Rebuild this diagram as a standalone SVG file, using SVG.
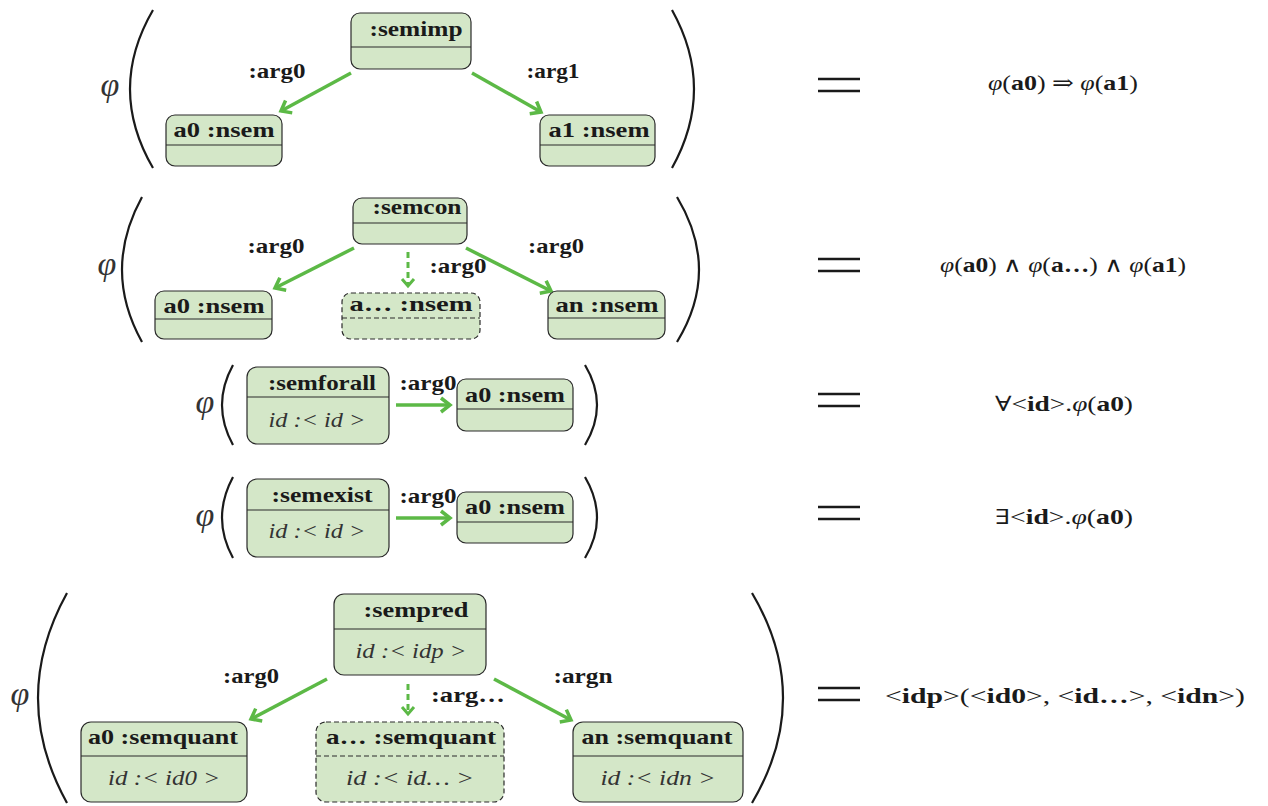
<svg xmlns="http://www.w3.org/2000/svg" width="1268" height="806" viewBox="0 0 1268 806">
<defs>
<style>
.n{fill:#d4e7c8;stroke:#2a2a2a;stroke-width:1.2}
.nd{fill:#d4e7c8;stroke:#2a2a2a;stroke-width:1.2;stroke-dasharray:5 3}
.dv{stroke:#2a2a2a;stroke-width:1.2}
.dvd{stroke:#2a2a2a;stroke-width:1.2;stroke-dasharray:5 3}
.t{font-family:"Liberation Serif","Times New Roman",serif;font-weight:bold;font-size:21px;fill:#1a1a1a;text-anchor:middle}
.i{font-family:"Liberation Serif","Times New Roman",serif;font-style:italic;font-size:20px;fill:#333;text-anchor:middle}
.lb{font-family:"Liberation Serif","Times New Roman",serif;font-weight:bold;font-size:20px;fill:#1a1a1a;text-anchor:middle}
.e{stroke:#5cb946;stroke-width:3.5;fill:none}
.ed{stroke:#5cb946;stroke-width:3;fill:none;stroke-dasharray:6 4}
.p{stroke:#1a1a1a;stroke-width:2.2;fill:none}
.phi{font-family:"Liberation Serif","DejaVu Serif",serif;font-style:italic;font-size:34px;fill:#333;text-anchor:middle}
.eq{stroke:#1a1a1a;stroke-width:2.5}
.f{font-family:"Liberation Serif","DejaVu Serif",serif;font-size:21px;fill:#1a1a1a;text-anchor:middle}
.f .b{font-weight:bold}
.f .it{font-style:italic}
</style>
<marker id="ah" markerUnits="userSpaceOnUse" markerWidth="20" markerHeight="20" viewBox="-14 -10 20 20" refX="0" refY="0" orient="auto">
<path d="M-9,-7 L0,0 L-9,7" fill="none" stroke="#5cb946" stroke-width="3.5" stroke-linejoin="miter"/>
</marker>
<marker id="ahd" markerUnits="userSpaceOnUse" markerWidth="20" markerHeight="20" viewBox="-14 -10 20 20" refX="0" refY="0" orient="auto">
<path d="M-7,-6 L0,0 L-7,6" fill="none" stroke="#5cb946" stroke-width="3"/>
</marker>
</defs>
<rect width="1268" height="806" fill="#ffffff"/>

<g id="brackets">
<path class="p" d="M153,10 Q107,89 153,168"/><path class="p" d="M672,10 Q716,89 672,168"/>
<path class="p" d="M142,197 Q102,270 142,342"/><path class="p" d="M677,197 Q721,270 677,342"/>
<path class="p" d="M233,365 Q211,405 233,445"/><path class="p" d="M585,365 Q609,405 585,445"/>
<path class="p" d="M233,477 Q211,518 233,558"/><path class="p" d="M585,477 Q609,518 585,558"/>
<path class="p" d="M67,593 Q9,698 67,803"/><path class="p" d="M752,593 Q814,698 752,803"/>
<text class="phi" x="110" y="96">φ</text>
<text class="phi" x="107" y="275">φ</text>
<text class="phi" x="205" y="413">φ</text>
<text class="phi" x="205" y="526">φ</text>
<text class="phi" x="20" y="705">φ</text>
</g>

<g id="connectors">
<line class="e" x1="351" y1="73" x2="281" y2="111" marker-end="url(#ah)"/>
<line class="e" x1="472" y1="73" x2="541" y2="112" marker-end="url(#ah)"/>
<line class="e" x1="354" y1="248" x2="275" y2="288" marker-end="url(#ah)"/>
<line class="ed" x1="408" y1="252" x2="408" y2="286" marker-end="url(#ahd)"/>
<line class="e" x1="466" y1="248" x2="551" y2="291" marker-end="url(#ah)"/>
<line class="e" x1="396" y1="405" x2="450" y2="405" marker-end="url(#ah)"/>
<line class="e" x1="396" y1="518" x2="450" y2="518" marker-end="url(#ah)"/>
<line class="e" x1="327" y1="679" x2="251" y2="719" marker-end="url(#ah)"/>
<line class="ed" x1="408" y1="684" x2="408" y2="714" marker-end="url(#ahd)"/>
<line class="e" x1="494" y1="679" x2="571" y2="720" marker-end="url(#ah)"/>
<text class="lb" x="277" y="78" textLength="57" lengthAdjust="spacingAndGlyphs">:arg0</text>
<text class="lb" x="553" y="78" textLength="53" lengthAdjust="spacingAndGlyphs">:arg1</text>
<text class="lb" x="276" y="253" textLength="57" lengthAdjust="spacingAndGlyphs">:arg0</text>
<text class="lb" x="458" y="273" textLength="57" lengthAdjust="spacingAndGlyphs">:arg0</text>
<text class="lb" x="556" y="253" textLength="56" lengthAdjust="spacingAndGlyphs">:arg0</text>
<text class="lb" x="428" y="390" textLength="57" lengthAdjust="spacingAndGlyphs">:arg0</text>
<text class="lb" x="428" y="503" textLength="57" lengthAdjust="spacingAndGlyphs">:arg0</text>
<text class="lb" x="251" y="683" textLength="56" lengthAdjust="spacingAndGlyphs">:arg0</text>
<text class="lb" x="468" y="702" textLength="74" lengthAdjust="spacingAndGlyphs">:arg…</text>
<text class="lb" x="583" y="683" textLength="59" lengthAdjust="spacingAndGlyphs">:argn</text>
</g>

<g id="semimp">
<rect class="n" x="351" y="13" width="120" height="56" rx="9"/>
<line class="dv" x1="351" y1="47" x2="471" y2="47"/>
<text class="t" x="416" y="36" textLength="93" lengthAdjust="spacingAndGlyphs">:semimp</text>
</g>
<g id="r1_a0">
<rect class="n" x="166" y="115" width="116" height="51" rx="9"/>
<line class="dv" x1="166" y1="145" x2="282" y2="145"/>
<text class="t" x="224" y="137" textLength="101" lengthAdjust="spacingAndGlyphs">a0 :nsem</text>
</g>
<g id="r1_a1">
<rect class="n" x="540" y="115" width="115" height="51" rx="9"/>
<line class="dv" x1="540" y1="145" x2="655" y2="145"/>
<text class="t" x="599" y="137" textLength="101" lengthAdjust="spacingAndGlyphs">a1 :nsem</text>
</g>

<g id="semcon">
<rect class="n" x="353" y="198" width="114" height="46" rx="9"/>
<line class="dv" x1="353" y1="223" x2="467" y2="223"/>
<text class="t" x="417" y="214" textLength="89" lengthAdjust="spacingAndGlyphs">:semcon</text>
</g>
<g id="r2_a0">
<rect class="n" x="155" y="291" width="117" height="48" rx="9"/>
<line class="dv" x1="155" y1="319" x2="272" y2="319"/>
<text class="t" x="214" y="313" textLength="101" lengthAdjust="spacingAndGlyphs">a0 :nsem</text>
</g>
<g id="r2_adots">
<rect class="nd" x="342" y="293" width="138" height="46" rx="9"/>
<line class="dvd" x1="342" y1="318" x2="480" y2="318"/>
<text class="t" x="411" y="311" textLength="123" lengthAdjust="spacingAndGlyphs">a… :nsem</text>
</g>
<g id="r2_an">
<rect class="n" x="548" y="291" width="117" height="48" rx="9"/>
<line class="dv" x1="548" y1="318" x2="665" y2="318"/>
<text class="t" x="607" y="312" textLength="103" lengthAdjust="spacingAndGlyphs">an :nsem</text>
</g>

<g id="semforall">
<rect class="n" x="247" y="367" width="142" height="77" rx="10"/>
<line class="dv" x1="247" y1="397" x2="389" y2="397"/>
<text class="t" x="322" y="390" textLength="108" lengthAdjust="spacingAndGlyphs">:semforall</text>
<text class="i" x="317" y="427" textLength="97" lengthAdjust="spacingAndGlyphs">id :&lt; id &gt;</text>
</g>
<g id="r3_a0">
<rect class="n" x="457" y="379" width="116" height="52" rx="9"/>
<line class="dv" x1="457" y1="409" x2="573" y2="409"/>
<text class="t" x="515" y="402" textLength="100" lengthAdjust="spacingAndGlyphs">a0 :nsem</text>
</g>

<g id="semexist">
<rect class="n" x="247" y="479" width="142" height="78" rx="10"/>
<line class="dv" x1="247" y1="510" x2="389" y2="510"/>
<text class="t" x="322" y="502" textLength="101" lengthAdjust="spacingAndGlyphs">:semexist</text>
<text class="i" x="317" y="538" textLength="97" lengthAdjust="spacingAndGlyphs">id :&lt; id &gt;</text>
</g>
<g id="r4_a0">
<rect class="n" x="457" y="492" width="116" height="51" rx="9"/>
<line class="dv" x1="457" y1="522" x2="573" y2="522"/>
<text class="t" x="515" y="514" textLength="100" lengthAdjust="spacingAndGlyphs">a0 :nsem</text>
</g>

<g id="sempred">
<rect class="n" x="334" y="594" width="152" height="81" rx="10"/>
<line class="dv" x1="334" y1="629" x2="486" y2="629"/>
<text class="t" x="416" y="617" textLength="105" lengthAdjust="spacingAndGlyphs">:sempred</text>
<text class="i" x="411" y="658" textLength="111" lengthAdjust="spacingAndGlyphs">id :&lt; idp &gt;</text>
</g>
<g id="r5_a0">
<rect class="n" x="81" y="722" width="166" height="80" rx="10"/>
<line class="dv" x1="81" y1="756" x2="247" y2="756"/>
<text class="t" x="163" y="744" textLength="150" lengthAdjust="spacingAndGlyphs">a0 :semquant</text>
<text class="i" x="164" y="785" textLength="112" lengthAdjust="spacingAndGlyphs">id :&lt; id0 &gt;</text>
</g>
<g id="r5_adots">
<rect class="nd" x="316" y="722" width="188" height="80" rx="10"/>
<line class="dvd" x1="316" y1="756" x2="504" y2="756"/>
<text class="t" x="411" y="744" textLength="170" lengthAdjust="spacingAndGlyphs">a… :semquant</text>
<text class="i" x="410" y="785" textLength="128" lengthAdjust="spacingAndGlyphs">id :&lt; id… &gt;</text>
</g>
<g id="r5_an">
<rect class="n" x="573" y="722" width="170" height="80" rx="10"/>
<line class="dv" x1="573" y1="756" x2="743" y2="756"/>
<text class="t" x="657" y="744" textLength="151" lengthAdjust="spacingAndGlyphs">an :semquant</text>
<text class="i" x="658" y="785" textLength="115" lengthAdjust="spacingAndGlyphs">id :&lt; idn &gt;</text>
</g>

<g id="equations">
<line class="eq" x1="818" y1="79" x2="860" y2="79"/><line class="eq" x1="818" y1="91" x2="860" y2="91"/>
<line class="eq" x1="818" y1="259" x2="860" y2="259"/><line class="eq" x1="818" y1="271" x2="860" y2="271"/>
<line class="eq" x1="818" y1="394" x2="860" y2="394"/><line class="eq" x1="818" y1="406" x2="860" y2="406"/>
<line class="eq" x1="818" y1="507" x2="860" y2="507"/><line class="eq" x1="818" y1="519" x2="860" y2="519"/>
<line class="eq" x1="818" y1="688" x2="860" y2="688"/><line class="eq" x1="818" y1="700" x2="860" y2="700"/>
<text class="f" x="1063" y="90" textLength="150" lengthAdjust="spacingAndGlyphs"><tspan class="it">φ</tspan>(<tspan class="b">a0</tspan>) ⇒ <tspan class="it">φ</tspan>(<tspan class="b">a1</tspan>)</text>
<text class="f" x="1063" y="272" textLength="246" lengthAdjust="spacingAndGlyphs"><tspan class="it">φ</tspan>(<tspan class="b">a0</tspan>) ∧ <tspan class="it">φ</tspan>(<tspan class="b">a…</tspan>) ∧ <tspan class="it">φ</tspan>(<tspan class="b">a1</tspan>)</text>
<text class="f" x="1064" y="411" textLength="138" lengthAdjust="spacingAndGlyphs">∀&lt;<tspan class="b">id</tspan>&gt;.<tspan class="it">φ</tspan>(<tspan class="b">a0</tspan>)</text>
<text class="f" x="1064" y="524" textLength="138" lengthAdjust="spacingAndGlyphs">∃&lt;<tspan class="b">id</tspan>&gt;.<tspan class="it">φ</tspan>(<tspan class="b">a0</tspan>)</text>
<text class="f" x="1065" y="703" textLength="360" lengthAdjust="spacingAndGlyphs">&lt;<tspan class="b">idp</tspan>&gt;(&lt;<tspan class="b">id0</tspan>&gt;, &lt;<tspan class="b">id…</tspan>&gt;, &lt;<tspan class="b">idn</tspan>&gt;)</text>
</g>
</svg>
